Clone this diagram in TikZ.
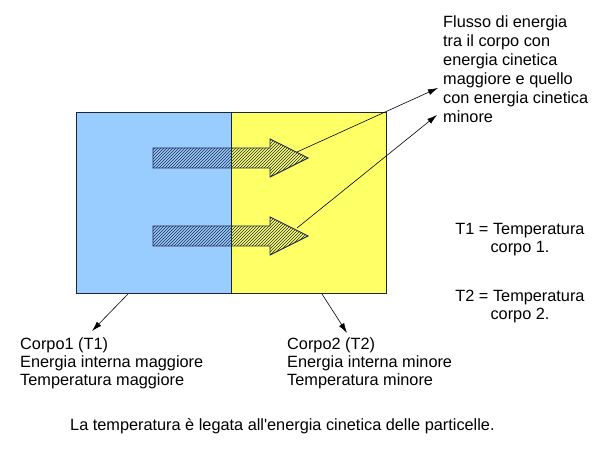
\documentclass[tikz,border=0pt]{standalone}
\usepackage{fontspec}
\setmainfont{Liberation Sans}
\usetikzlibrary{arrows.meta,patterns}
\definecolor{bluebody}{HTML}{99CCFF}
\definecolor{yellowbody}{HTML}{FFFF66}
\definecolor{edgedark}{HTML}{1C2638}
\definecolor{hatchcol}{HTML}{1E2A4A}
\tikzset{
  bodybox/.style={draw=edgedark, line width=1pt, inner sep=0pt, minimum width=155pt, minimum height=181pt},
  flowarrow/.style={draw=hatchcol, line width=0.9pt, pattern=north east lines, pattern color=hatchcol},
  leader/.style={draw=black, line width=0.6pt, -{Latex[length=10pt,width=6pt]}},
  label/.style={inner sep=0pt, font=\fontsize{16.3}{18}\selectfont},
}
\begin{document}
\begin{tikzpicture}[x=1pt,y=-1pt]
\useasboundingbox (0,0) rectangle (600,462);
\fill[white] (0,0) rectangle (600,462);
% bodies
\node[bodybox, fill=bluebody] (body1) at (153.5,203.5) {};
\node[bodybox, fill=yellowbody] (body2) at (308.5,203.5) {};
% flow arrows
\draw[flowarrow] (153,148) -- (270,148) -- (270,139) -- (308,158) -- (270,177) -- (270,168) -- (153,168) -- cycle;
\draw[flowarrow] (153,226) -- (270,226) -- (270,217) -- (308,236) -- (270,255) -- (270,246) -- (153,246) -- cycle;
\coordinate (a1) at (297,152);
\coordinate (a2) at (297,228);
% texts
\node[label, anchor=north west, align=left, font=\fontsize{16.3}{19}\selectfont] (flusso) at (443,15.3)
  {Flusso di energia\\tra il corpo con\\energia cinetica\\maggiore e quello\\con energia cinetica\\minore};
\coordinate (f1) at (438,88);
\coordinate (f2) at (437,115);
\draw[leader] (a1) -- (f1);
\draw[leader] (a2) -- (f2);
\node[label, anchor=north west, align=left] (corpo1) at (20,337.3)
  {Corpo1 (T1)\\Energia interna maggiore\\Temperatura maggiore};
\node[label, anchor=north west, align=left] (corpo2) at (287,337.3)
  {Corpo2 (T2)\\Energia interna minore\\Temperatura minore};
\coordinate (b1) at (128,294);
\coordinate (c1) at (92,331);
\coordinate (b2) at (322,294);
\coordinate (c2) at (347,333);
\draw[leader] (b1) -- (c1);
\draw[leader] (b2) -- (c2);
\node[label, anchor=north, align=center] (t1) at (520,223.3) {T1 = Temperatura\\corpo 1.};
\node[label, anchor=north, align=center] (t2) at (520,290.3) {T2 = Temperatura\\corpo 2.};
\node[label, anchor=base west] (nota) at (70,430) {La temperatura è legata all\textquotesingle energia cinetica delle particelle.};
\end{tikzpicture}
\end{document}
